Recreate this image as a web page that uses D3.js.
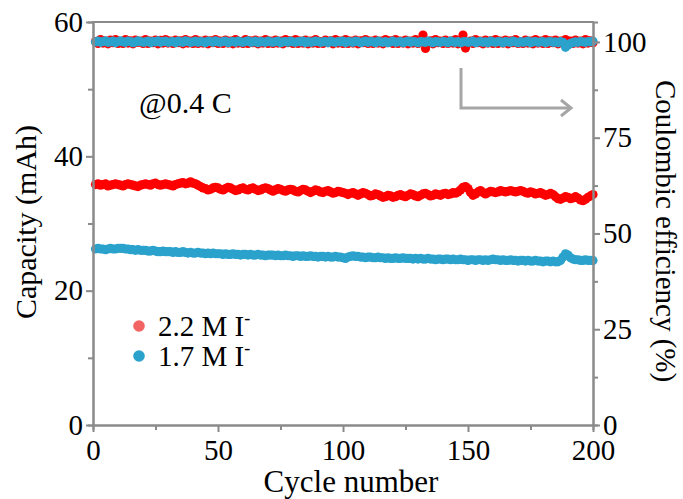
<!DOCTYPE html>
<html><head><meta charset="utf-8">
<script src="https://cdn.jsdelivr.net/npm/d3@7"></script>
<style>html,body{margin:0;padding:0;background:#fff;}svg{display:block;}</style>
</head><body>
<svg id="chart" width="683" height="499"></svg>
<script>
// ---- data (cycle 1..200) ----
const cycles = d3.range(1, 201);
const cap22 = [
35.8,35.9,35.7,35.8,35.9,35.6,35.7,35.8,35.9,35.8,
35.7,35.6,35.8,35.9,35.8,35.7,35.6,35.5,35.7,35.8,
35.9,35.8,35.7,35.9,36.0,35.8,35.7,35.8,35.9,35.8,
35.7,35.6,35.8,35.9,36.0,36.1,35.9,36.0,36.2,36.0,
35.9,35.7,35.5,35.3,35.2,35.0,35.1,35.3,35.4,35.3,
35.1,35.0,35.2,35.4,35.3,35.1,34.9,35.0,35.2,35.3,
35.1,35.0,35.2,35.3,35.1,34.9,35.0,35.2,35.3,35.2,
35.0,34.8,35.0,35.2,35.1,34.9,34.8,35.0,35.1,35.0,
34.8,34.7,34.9,35.1,35.0,34.8,34.6,34.8,35.0,34.9,
34.7,34.6,34.8,34.9,34.7,34.5,34.6,34.8,34.7,34.6,
34.5,34.3,34.5,34.6,34.4,34.2,34.4,34.6,34.5,34.3,
34.1,34.2,34.4,34.3,34.1,33.9,34.0,34.2,34.1,33.9,
34.0,34.2,34.3,34.1,34.0,34.2,34.4,34.3,34.1,34.0,
34.2,34.4,34.5,34.3,34.1,34.2,34.4,34.3,34.2,34.4,
34.5,34.3,34.4,34.6,34.5,34.7,35.0,35.4,35.5,35.2,
34.6,34.2,34.4,34.7,34.9,34.6,34.4,34.6,34.8,34.7,
34.6,34.7,34.9,34.8,34.7,34.8,34.9,34.8,34.7,34.8,
34.9,34.8,34.6,34.5,34.7,34.6,34.4,34.5,34.6,34.4,
34.2,34.3,34.5,34.3,34.0,33.7,33.6,33.8,34.0,33.9,
33.7,33.8,34.0,33.8,33.5,33.4,33.6,33.9,34.1,34.3];
const cap17 = [
26.2,26.3,26.2,26.2,26.1,26.2,26.3,26.2,26.2,26.3,
26.3,26.3,26.2,26.2,26.1,26.1,26.0,26.1,26.0,26.0,
26.0,25.9,25.9,26.0,25.9,25.8,25.8,25.9,25.8,25.8,
25.8,25.7,25.8,25.7,25.7,25.8,25.7,25.6,25.7,25.6,
25.6,25.7,25.6,25.6,25.5,25.6,25.5,25.6,25.5,25.5,
25.5,25.4,25.5,25.4,25.4,25.5,25.4,25.4,25.3,25.4,
25.4,25.3,25.4,25.3,25.3,25.4,25.3,25.3,25.2,25.3,
25.3,25.3,25.2,25.3,25.2,25.2,25.3,25.2,25.2,25.1,
25.2,25.2,25.1,25.2,25.1,25.1,25.2,25.1,25.1,25.0,
25.1,25.1,25.0,25.1,25.0,25.0,25.1,25.0,25.0,24.9,
24.8,25.0,25.1,25.2,25.1,25.1,25.0,25.0,24.9,25.0,
25.0,24.9,24.9,25.0,24.9,24.9,24.8,24.9,24.8,24.8,
24.9,24.8,24.8,24.9,24.8,24.8,24.8,24.7,24.8,24.7,
24.8,24.7,24.7,24.8,24.7,24.7,24.6,24.7,24.7,24.6,
24.7,24.7,24.6,24.7,24.6,24.6,24.7,24.6,24.6,24.5,
24.6,24.6,24.5,24.6,24.6,24.5,24.6,24.5,24.6,24.7,
24.6,24.6,24.5,24.6,24.5,24.5,24.6,24.5,24.5,24.4,
24.5,24.5,24.4,24.5,24.4,24.4,24.5,24.4,24.4,24.3,
24.4,24.4,24.3,24.4,24.3,24.3,24.5,25.0,25.5,25.3,
24.9,24.7,24.6,24.6,24.5,24.5,24.6,24.5,24.5,24.5];
const ce22 = [
100.1,99.6,100.6,99.7,100.2,99.5,100.5,99.8,100.6,99.6,
100.1,99.6,100.6,99.7,100.3,99.5,100.5,99.9,100.2,99.6,
100.6,99.6,100.2,99.8,100.5,99.5,100.4,99.7,100.6,99.7,
100.2,99.6,100.5,99.8,100.3,99.5,100.6,99.7,100.2,99.6,
100.6,99.6,100.2,99.7,100.5,99.5,100.3,99.8,100.6,99.6,
100.2,99.6,100.5,99.7,100.2,99.5,100.6,99.7,100.1,99.6,
100.6,99.6,100.3,99.8,100.5,99.5,100.2,99.7,100.6,99.6,
100.2,99.6,100.5,99.7,100.2,99.5,100.6,99.8,100.3,99.6,
100.6,99.6,100.2,99.7,100.5,99.5,100.2,99.7,100.6,99.6,
100.1,99.6,100.5,99.8,100.3,99.5,100.6,99.7,100.2,99.6,
100.6,99.6,100.2,99.7,100.5,99.5,100.3,99.8,100.6,99.6,
100.2,99.6,100.5,99.7,100.2,99.5,100.6,99.8,100.3,99.6,
100.6,99.6,100.2,99.7,100.5,99.5,100.2,99.7,100.6,99.6,
100.2,101.8,98.3,99.7,100.3,99.5,100.6,99.8,100.2,99.6,
100.5,99.6,100.2,99.7,100.6,99.5,100.3,101.8,98.4,99.7,
100.2,99.6,100.6,99.8,100.2,99.5,100.5,99.7,100.3,99.6,
100.6,99.6,100.2,99.7,100.5,99.5,100.3,99.8,100.6,99.6,
100.1,99.6,100.5,99.7,100.2,99.5,100.6,99.7,100.2,99.6,
100.6,99.6,100.3,99.8,100.5,99.5,100.2,99.7,100.6,99.6,
100.2,99.6,100.5,99.7,100.2,99.5,100.6,99.7,100.3,99.8];
const ce17 = [
100.0,100.2,99.9,100.1,100.3,99.9,100.0,100.2,99.8,100.1,
100.3,100.0,99.9,100.2,100.1,99.8,100.0,100.3,100.1,99.9,
100.0,100.2,99.8,100.1,100.0,100.3,99.9,100.1,100.2,99.9,
100.0,100.1,99.8,100.2,100.0,99.9,100.3,100.1,99.9,100.0,
100.2,99.9,100.1,100.0,99.8,100.2,100.1,99.9,100.3,100.0,
99.9,100.1,100.2,99.8,100.0,100.1,99.9,100.2,100.0,99.9,
100.1,100.3,99.9,100.0,100.2,99.8,100.1,100.0,99.9,100.2,
100.0,99.9,100.1,100.2,99.8,100.0,100.1,99.9,100.2,100.0,
99.9,100.1,100.0,100.2,99.8,100.1,99.9,100.0,100.2,100.1,
99.9,100.0,100.1,99.8,100.2,100.0,99.9,100.1,100.0,100.2,
99.8,100.1,100.0,99.9,100.2,100.1,99.8,100.0,100.2,99.9,
100.1,100.0,99.8,100.2,100.0,99.9,100.1,99.8,100.0,100.2,
99.9,100.0,100.1,99.8,100.0,100.2,99.9,100.1,100.0,99.8,
100.1,100.0,99.9,100.2,100.0,99.8,100.1,100.0,99.9,100.1,
100.0,99.8,100.2,100.0,99.9,100.1,99.8,100.0,100.1,99.9,
100.0,100.2,99.8,100.0,100.1,99.9,100.0,99.8,100.2,100.0,
99.9,100.1,100.0,99.8,100.1,100.0,99.9,100.2,100.0,99.8,
100.1,99.9,100.0,100.2,99.8,100.0,100.1,99.9,100.0,100.1,
99.8,100.0,100.1,99.9,100.0,99.8,100.1,99.9,98.6,99.2,
99.6,99.8,100.0,99.9,100.1,100.0,99.9,100.1,100.0,100.2];
const xTicks = [0, 50, 100, 150, 200];
const yLeftTicks = [0, 20, 40, 60];
const yRightTicks = [0, 25, 50, 75, 100];
const legendLabels = ["2.2 M I", "1.7 M I"];
const annotation = "@0.4 C";

// ---- layout ----
const svg = d3.select("#chart");
const L = 93, R = 593, T = 22, B = 425;
const RED = "#ff0000", BLUE = "#2aa2cc", GRAY = "#8a8a8a";
const FONT = "'Liberation Serif','Times New Roman',serif";

const x = d3.scaleLinear().domain([0, 200]).range([L, R]);
const yL = d3.scaleLinear().domain([0, 60]).range([B, T]);
const yR = d3.scaleLinear().domain([0, 105.2]).range([B, T]);

// data points
function dots(vals, scale, color) {
  svg.append("g").selectAll("circle").data(vals).join("circle")
    .attr("cx", (d, i) => x(cycles[i]))
    .attr("cy", d => scale(d))
    .attr("r", 4.6)
    .attr("fill", color);
}
dots(cap22, yL, RED);
dots(cap17, yL, BLUE);
dots(ce22, yR, RED);
dots(ce17, yR, BLUE);

// axes
function styleAxis(g) {
  g.selectAll(".domain").attr("stroke", GRAY).attr("stroke-width", 2);
  g.selectAll(".tick line").attr("stroke", GRAY).attr("stroke-width", 2);
  g.selectAll(".tick text").attr("fill", "#000").style("font-family", FONT).style("font-size", "29px");
}
// minor ticks
svg.append("g").attr("transform", `translate(0,${B})`)
  .call(d3.axisBottom(x).tickValues([25, 75, 125, 175]).tickSize(5).tickFormat(""))
  .call(styleAxis);
svg.append("g").attr("transform", `translate(${L},0)`)
  .call(d3.axisLeft(yL).tickValues([10, 30, 50]).tickSize(5).tickFormat(""))
  .call(styleAxis);
svg.append("g").attr("transform", `translate(${R},0)`)
  .call(d3.axisRight(yR).tickValues([12.5, 37.5, 62.5, 87.5]).tickSize(5).tickFormat(""))
  .call(styleAxis);
// major
svg.append("g").attr("transform", `translate(0,${B})`)
  .call(d3.axisBottom(x).tickValues(xTicks).tickSize(7).tickSizeOuter(0).tickPadding(7))
  .call(styleAxis);
svg.append("g").attr("transform", `translate(${L},0)`)
  .call(d3.axisLeft(yL).tickValues(yLeftTicks).tickSize(7).tickSizeOuter(0).tickPadding(3))
  .call(styleAxis);
svg.append("g").attr("transform", `translate(${R},0)`)
  .call(d3.axisRight(yR).tickValues(yRightTicks).tickSize(7).tickSizeOuter(0).tickPadding(3))
  .call(styleAxis);
// top border
svg.append("line").attr("x1", L - 1).attr("x2", R + 1).attr("y1", T).attr("y2", T)
  .attr("stroke", GRAY).attr("stroke-width", 2);

// axis titles
svg.append("text").attr("x", (L + R) / 2 + 8).attr("y", 492).attr("text-anchor", "middle")
  .style("font-family", FONT).style("font-size", "31px").text("Cycle number");
svg.append("text").attr("transform", `translate(36,222) rotate(-90)`)
  .attr("text-anchor", "middle").style("font-family", FONT).style("font-size", "30px")
  .text("Capacity (mAh)");
svg.append("text").attr("transform", `translate(656,231) rotate(90)`)
  .attr("text-anchor", "middle").style("font-family", FONT).style("font-size", "29px")
  .text("Coulombic efficiency (%)");

// annotation
svg.append("text").attr("x", 139).attr("y", 113)
  .style("font-family", FONT).style("font-size", "30px").text(annotation);

// arrow
svg.append("path").attr("d", "M461,68 V108 H570").attr("fill", "none")
  .attr("stroke", "#a6a6a6").attr("stroke-width", 3);
svg.append("path").attr("d", "M561,100 L571,108 L561,116").attr("fill", "none")
  .attr("stroke", "#a6a6a6").attr("stroke-width", 3);

// legend
const legColors = ["#f26464", "#2aa2cc"];
legendLabels.forEach((lab, i) => {
  const yy = 326 + i * 30;
  svg.append("circle").attr("cx", 139).attr("cy", yy).attr("r", 5.8).attr("fill", legColors[i]);
  const t = svg.append("text").attr("x", 158).attr("y", yy + 10)
    .style("font-family", FONT).style("font-size", "29px").text(lab);
  t.append("tspan").attr("dy", -12).style("font-size", "18px").text("-");
});
</script>
</body></html>
